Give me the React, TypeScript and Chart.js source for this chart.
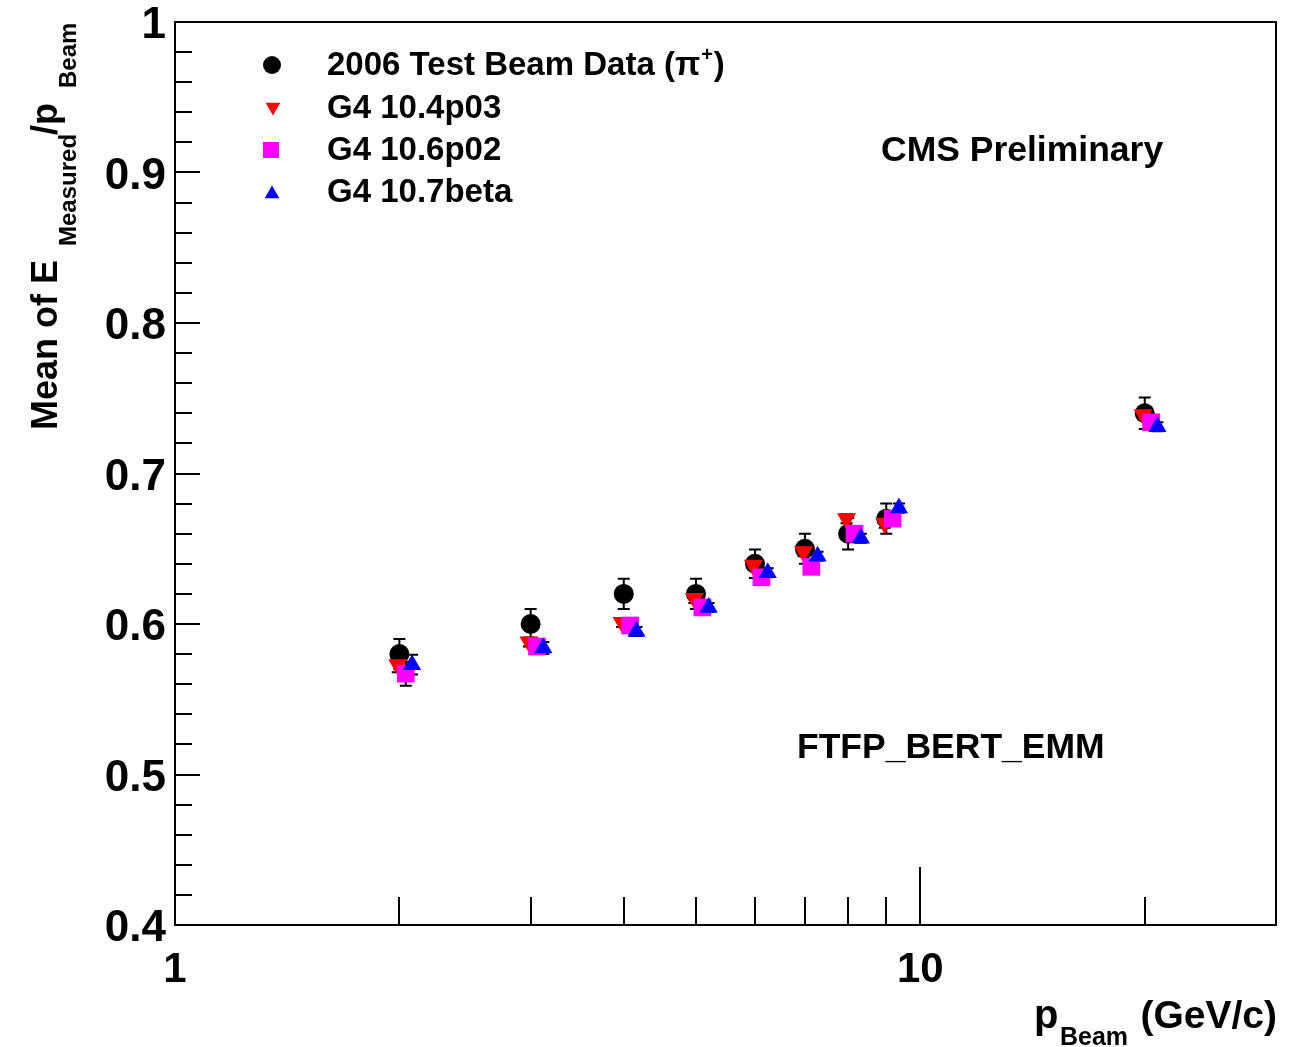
import React, { useEffect, useRef } from 'react';
import { Chart, registerables } from 'chart.js';

Chart.register(...registerables);

// ---- data ----
const beamMomenta = [2, 3, 4, 5, 6, 7, 8, 9, 20];
const testBeamValues = [0.58, 0.6, 0.62, 0.62, 0.64, 0.65, 0.66, 0.67, 0.74];
const testBeamErrors = [0.01, 0.01, 0.01, 0.01, 0.0095, 0.01, 0.0105, 0.01, 0.0105];

const g4_104p03_x = [1.99, 2.985, 3.98, 4.975, 5.97, 6.97, 7.96, 8.96, 19.9];
const g4_104p03_values = [0.573, 0.588, 0.601, 0.617, 0.639, 0.648, 0.67, 0.667, 0.739];
const g4_104p03_errors = [0.005, 0.003, 0.003, 0.003, 0.003, 0.003, 0.003, 0.003, 0.003];

const g4_106p02_x = [2.04, 3.06, 4.08, 5.1, 6.12, 7.14, 8.16, 9.18, 20.4];
const g4_106p02_values = [0.567, 0.585, 0.599, 0.611, 0.631, 0.638, 0.66, 0.67, 0.734];
const g4_106p02_errors = [0.008, 0.0045, 0.003, 0.003, 0.003, 0.003, 0.003, 0.003, 0.003];

const g4_107beta_x = [2.08, 3.12, 4.16, 5.2, 6.24, 7.28, 8.32, 9.36, 20.8];
const g4_107beta_values = [0.573, 0.584, 0.595, 0.611, 0.634, 0.645, 0.657, 0.677, 0.731];
const g4_107beta_errors = [0.0066, 0.004, 0.003, 0.003, 0.003, 0.003, 0.003, 0.003, 0.003];

const legendLabels = ['2006 Test Beam Data (π', 'G4 10.4p03', 'G4 10.6p02', 'G4 10.7beta'];
const yTickLabels = ['0.4', '0.5', '0.6', '0.7', '0.8', '0.9', '1'];
const xTickLabels = ['1', '10'];
const xMinorTicks = [2, 3, 4, 5, 6, 7, 8, 9, 20];
const xMajorTicks = [10];

const FONT = '"Liberation Sans", Arial, Helvetica, sans-serif';

function toPoints(xs: number[], ys: number[]) {
  return xs.map((x, i) => ({ x, y: ys[i] }));
}

function drawMarker(ctx: CanvasRenderingContext2D, kind: string, x: number, y: number, r: number, color: string) {
  ctx.save();
  ctx.fillStyle = color;
  ctx.beginPath();
  if (kind === 'circle') {
    ctx.arc(x, y, r, 0, Math.PI * 2);
  } else if (kind === 'square') {
    ctx.rect(x - r, y - r, 2 * r, 2 * r);
  } else if (kind === 'up') {
    const h = r * 1.5;
    ctx.moveTo(x, y - h / 2 - r * 0.25);
    ctx.lineTo(x + r * 0.866, y + h / 2 - r * 0.25);
    ctx.lineTo(x - r * 0.866, y + h / 2 - r * 0.25);
    ctx.closePath();
  } else if (kind === 'down') {
    const h = r * 1.5;
    ctx.moveTo(x, y + h / 2 + r * 0.25);
    ctx.lineTo(x + r * 0.866, y - h / 2 + r * 0.25);
    ctx.lineTo(x - r * 0.866, y - h / 2 + r * 0.25);
    ctx.closePath();
  }
  ctx.fill();
  ctx.restore();
}

const errorSets = [
  { x: beamMomenta, y: testBeamValues, e: testBeamErrors },
  { x: g4_104p03_x, y: g4_104p03_values, e: g4_104p03_errors },
  { x: g4_106p02_x, y: g4_106p02_values, e: g4_106p02_errors },
  { x: g4_107beta_x, y: g4_107beta_values, e: g4_107beta_errors },
];

const decorPlugin = {
  id: 'rootDecor',
  beforeDatasetsDraw(chart: any) {
    const ctx: CanvasRenderingContext2D = chart.ctx;
    const xs = chart.scales.x;
    const ys = chart.scales.y;
    ctx.save();
    ctx.strokeStyle = '#000';
    ctx.lineWidth = 2;
    errorSets.forEach((s) => {
      s.x.forEach((xv, i) => {
        const px = xs.getPixelForValue(xv);
        const yTop = ys.getPixelForValue(s.y[i] + s.e[i]);
        const yBot = ys.getPixelForValue(s.y[i] - s.e[i]);
        ctx.beginPath();
        ctx.moveTo(px, yTop);
        ctx.lineTo(px, yBot);
        ctx.moveTo(px - 6, yTop);
        ctx.lineTo(px + 6, yTop);
        ctx.moveTo(px - 6, yBot);
        ctx.lineTo(px + 6, yBot);
        ctx.stroke();
      });
    });
    ctx.restore();
  },
  afterDraw(chart: any) {
    const ctx: CanvasRenderingContext2D = chart.ctx;
    const xs = chart.scales.x;
    const ys = chart.scales.y;
    const a = chart.chartArea;
    ctx.save();
    ctx.strokeStyle = '#000';
    ctx.fillStyle = '#000';
    ctx.lineWidth = 2;
    // frame
    ctx.strokeRect(a.left, a.top, a.right - a.left, a.bottom - a.top);

    // y ticks (inside, left axis)
    ctx.beginPath();
    for (let i = 0; i <= 30; i++) {
      const v = 0.4 + i * 0.02;
      const py = Math.round(ys.getPixelForValue(v));
      const len = i % 5 === 0 ? 25 : 17;
      ctx.moveTo(a.left, py);
      ctx.lineTo(a.left + len, py);
    }
    // x ticks (inside, bottom axis)
    xMinorTicks.forEach((v) => {
      const px = Math.round(xs.getPixelForValue(v));
      ctx.moveTo(px, a.bottom);
      ctx.lineTo(px, a.bottom - 28);
    });
    xMajorTicks.forEach((v) => {
      const px = Math.round(xs.getPixelForValue(v));
      ctx.moveTo(px, a.bottom);
      ctx.lineTo(px, a.bottom - 58);
    });
    ctx.stroke();

    // y tick labels
    ctx.font = `bold 44px ${FONT}`;
    ctx.textAlign = 'right';
    ctx.textBaseline = 'alphabetic';
    yTickLabels.forEach((t) => {
      const py = ys.getPixelForValue(parseFloat(t));
      ctx.fillText(t, 166, py + 16);
    });
    // x tick labels
    ctx.font = `bold 42px ${FONT}`;
    ctx.textAlign = 'center';
    xTickLabels.forEach((t) => {
      const px = xs.getPixelForValue(parseFloat(t));
      ctx.fillText(t, px, 982);
    });

    // x axis title: p_Beam (GeV/c)
    ctx.textAlign = 'left';
    ctx.font = `bold 40px ${FONT}`;
    ctx.fillText('p', 1034, 1028);
    ctx.font = `bold 25px ${FONT}`;
    ctx.fillText('Beam', 1060, 1045);
    ctx.font = `bold 39px ${FONT}`;
    ctx.textAlign = 'right';
    ctx.fillText('(GeV/c)', 1277, 1028);

    // y axis title (rotated)
    ctx.save();
    ctx.translate(57, 430);
    ctx.rotate(-Math.PI / 2);
    ctx.textAlign = 'left';
    const mainF = `bold 36px ${FONT}`;
    const subF = `bold 24px ${FONT}`;
    ctx.font = mainF;
    ctx.fillText('Mean of E', 0, 0);
    ctx.font = subF;
    ctx.fillText('Measured', 184, 19);
    const mw = ctx.measureText('Measured').width;
    ctx.font = mainF;
    ctx.fillText('/p', 184 + mw - 1, 0);
    ctx.font = subF;
    ctx.fillText('Beam', 342, 19);
    ctx.restore();

    // annotations
    ctx.textAlign = 'left';
    ctx.font = `bold 35.5px ${FONT}`;
    ctx.fillText('CMS Preliminary', 881, 161);
    ctx.fillText('FTFP_BERT_EMM', 797, 758);

    // legend
    const rowsBase = [75, 118, 160, 202];
    ctx.textAlign = 'left';
    rowsBase.forEach((b, i) => {
      ctx.font = `bold 33px ${FONT}`;
      ctx.fillText(legendLabels[i], 327, b);
      if (i === 0) {
        let w = ctx.measureText(legendLabels[0]).width;
        ctx.font = `bold 20px ${FONT}`;
        ctx.fillText('+', 327 + w + 1, b - 14);
        w += ctx.measureText('+').width + 2;
        ctx.font = `bold 33px ${FONT}`;
        ctx.fillText(')', 327 + w, b);
      }
    });
    drawMarker(ctx, 'circle', 272, 65, 9, '#000000');
    drawMarker(ctx, 'down', 273, 107, 8.5, '#ff0000');
    drawMarker(ctx, 'square', 271, 150, 8, '#ff00ff');
    drawMarker(ctx, 'up', 272, 194, 8.5, '#0000ff');

    ctx.restore();
  },
};

export default function App() {
  const ref = useRef<HTMLCanvasElement>(null);
  useEffect(() => {
    if (!ref.current) return;
    const chart = new Chart(ref.current, {
      type: 'scatter',
      data: {
        datasets: [
          {
            label: '2006 Test Beam Data (π+)',
            data: toPoints(beamMomenta, testBeamValues),
            pointStyle: 'circle',
            pointRadius: 10,
            backgroundColor: '#000000',
            borderColor: '#000000',
            borderWidth: 0,
            order: 4,
          },
          {
            label: 'G4 10.4p03',
            data: toPoints(g4_104p03_x, g4_104p03_values),
            pointStyle: 'triangle',
            rotation: 180,
            pointRadius: 11,
            backgroundColor: '#ff0000',
            borderColor: '#ff0000',
            borderWidth: 0,
            order: 3,
          },
          {
            label: 'G4 10.6p02',
            data: toPoints(g4_106p02_x, g4_106p02_values),
            pointStyle: 'rect',
            pointRadius: 12.5,
            backgroundColor: '#ff00ff',
            borderColor: '#ff00ff',
            borderWidth: 0,
            order: 2,
          },
          {
            label: 'G4 10.7beta',
            data: toPoints(g4_107beta_x, g4_107beta_values),
            pointStyle: 'triangle',
            pointRadius: 10.5,
            backgroundColor: '#0000ff',
            borderColor: '#0000ff',
            borderWidth: 0,
            order: 1,
          },
        ],
      },
      options: {
        animation: false,
        responsive: false,
        maintainAspectRatio: false,
        events: [],
        layout: { padding: { left: 175, right: 21, top: 22, bottom: 122 } },
        scales: {
          x: { type: 'logarithmic', min: 1, max: 30, display: false },
          y: { type: 'linear', min: 0.4, max: 1.0, display: false },
        },
        plugins: {
          legend: { display: false },
          tooltip: { enabled: false },
          title: { display: false },
        },
      } as any,
      plugins: [decorPlugin],
    } as any);
    return () => chart.destroy();
  }, []);
  return (
    <div style={{ position: 'absolute', left: 0, top: 0, width: 1297, height: 1047, background: '#ffffff' }}>
      <canvas ref={ref} width={1297} height={1047} style={{ display: 'block', width: 1297, height: 1047 }} />
    </div>
  );
}
